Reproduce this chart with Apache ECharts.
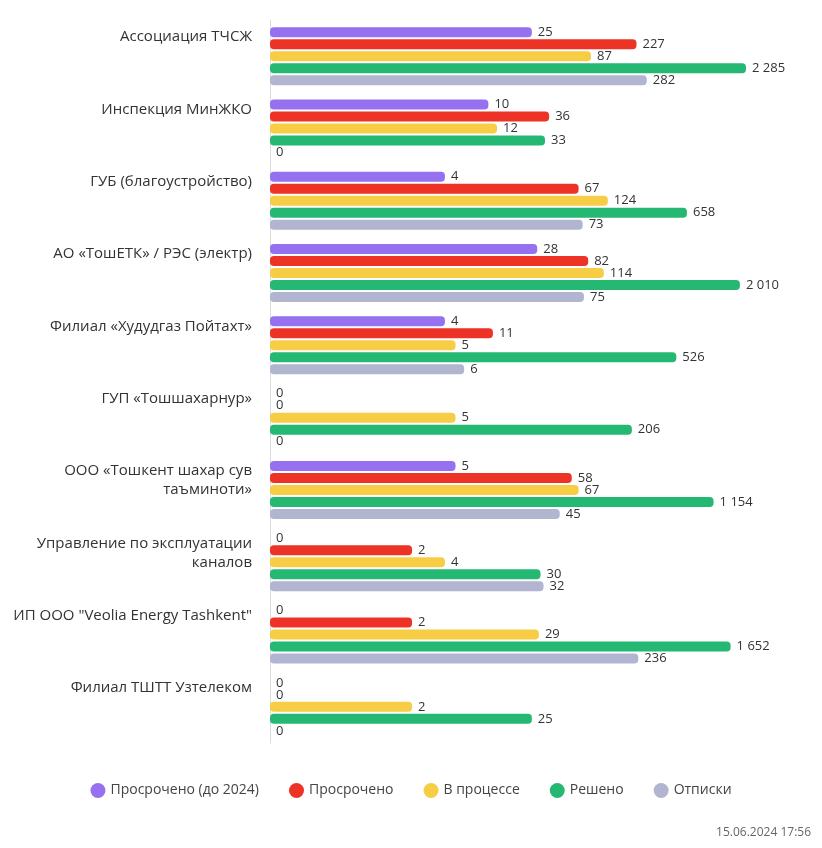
<!DOCTYPE html>
<html><head><meta charset="utf-8">
<script src="https://cdn.jsdelivr.net/npm/echarts@6/dist/echarts.min.js"></script>
<style>html,body{margin:0;padding:0;background:#fff}#c{width:822px;height:848px}</style>
</head><body><div id="c"></div>
<script>
const categories = [
  'Ассоциация ТЧСЖ',
  'Инспекция МинЖКО',
  'ГУБ (благоустройство)',
  'АО «ТошЕТК» / РЭС (электр)',
  'Филиал «Худудгаз Пойтахт»',
  'ГУП «Тошшахарнур»',
  'ООО «Тошкент шахар сув\nтаъминоти»',
  'Управление по эксплуатации\nканалов',
  'ИП ООО "Veolia Energy Tashkent"',
  'Филиал ТШТТ Узтелеком'
];
const seriesNames = ['Просрочено (до 2024)', 'Просрочено', 'В процессе', 'Решено', 'Отписки'];
const overdueOld = [25, 10, 4, 28, 4, 0, 5, 0, 0, 0];
const overdue    = [227, 36, 67, 82, 11, 0, 58, 2, 2, 0];
const inProgress = [87, 12, 124, 114, 5, 5, 67, 4, 29, 2];
const solved     = [2285, 33, 658, 2010, 526, 206, 1154, 30, 1652, 25];
const replies    = [282, 0, 73, 75, 6, 0, 45, 32, 236, 0];
const colors = ['#9570ef', '#ec3325', '#f6cd45', '#25b872', '#b1b5cf'];
// log axis shows 0.1 .. 10000; bars on a log axis grow from 1, so values are shifted one decade (x10)
const SHIFT = 10;
const AXIS_MIN = 1, AXIS_MAX = 100000;

const all = [overdueOld, overdue, inProgress, solved, replies];
const fmt = v => String(v).replace(/\B(?=(\d{3})+(?!\d))/g, ' ');
const font = '"Open Sans", Roboto, sans-serif';

const chart = echarts.init(document.getElementById('c'));
chart.setOption({
  animation: false,
  textStyle: { fontFamily: font },
  grid: { left: 270, right: 6, top: 20, bottom: 105, containLabel: false },
  legend: {
    bottom: 45, left: 'center', icon: 'circle', itemWidth: 15, itemHeight: 15, itemGap: 30,
    textStyle: { fontSize: 14, color: '#444', fontFamily: font },
    data: seriesNames
  },
  xAxis: {
    type: 'log', min: AXIS_MIN, max: AXIS_MAX, logBase: 10,
    axisLine: { show: false }, axisTick: { show: false }, axisLabel: { show: false },
    splitLine: { show: false }
  },
  yAxis: {
    type: 'category', inverse: true, data: categories,
    axisLine: { show: true, lineStyle: { color: '#dcdcdc', width: 1 } },
    axisTick: { show: false },
    axisLabel: {
      margin: 18, fontSize: 15, color: '#333', lineHeight: 19, align: 'right',
      formatter: v => { const l = v.split('\n'); while (l.length < 3) l.push(' '); return l.join('\n'); }
    }
  },
  series: all.map((arr, i) => ({
    name: seriesNames[i], type: 'bar', barWidth: 10, barGap: '20%',
    itemStyle: { color: colors[i], borderRadius: 4 },
    label: {
      show: true, position: 'right', distance: 6, fontSize: 13, color: '#333', fontFamily: font,
      formatter: p => fmt(arr[p.dataIndex])
    },
    data: arr.map(v => v > 0 ? v * SHIFT : AXIS_MIN)
  })),
  graphic: [{
    type: 'text', right: 11, bottom: 9,
    style: { text: '15.06.2024 17:56', fontSize: 12, fill: '#666', fontFamily: font }
  }]
});
</script></body></html>
